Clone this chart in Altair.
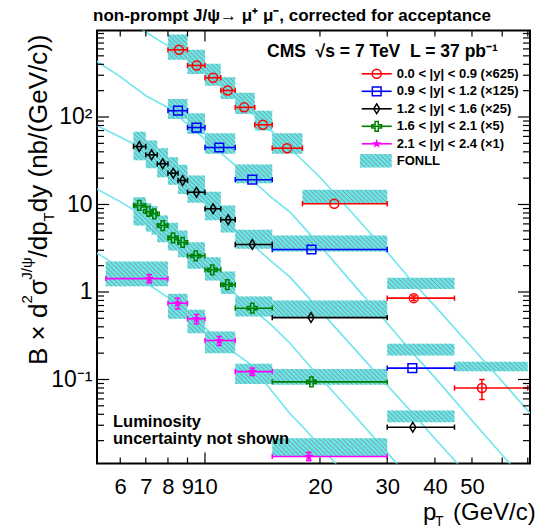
import math
import altair as alt
import pandas as pd

# ---------------------------------------------------------------- data
SERIES = ["s0", "s1", "s2", "s3", "s4"]
LABELS = ["0.0 < |y| < 0.9 (×625)", "0.9 < |y| < 1.2 (×125)", "1.2 < |y| < 1.6 (×25)",
          "1.6 < |y| < 2.1 (×5)", "2.1 < |y| < 2.4 (×1)"]
COLORS = ["#ff0000", "#0000ff", "#000000", "#008000", "#ff00ff"]

# 0.0<|y|<0.9 (x625)
s0_lo = [8, 9, 10, 11, 12, 13.5, 15, 18, 30, 45]
s0_hi = [9, 10, 11, 12, 13.5, 15, 18, 30, 45, 70]
s0_pt = [8.55, 9.51, 10.5, 11.47, 12.67, 14.18, 16.4, 21.8, 35.2, 53.1]
s0_val = [586, 388, 281, 201, 129, 81.5, 44, 10.2, 0.85, 0.080]
s0_flo = [450, 311, 228, 161, 108.5, 70, 37.9, 10.3, 1.08, 0.124]
s0_fhi = [877, 586, 405, 285, 189, 118, 65.3, 14.7, 1.45, 0.159]

# 0.9<|y|<1.2 (x125)
s1_lo = [8, 9, 10, 12, 15, 30]
s1_hi = [9, 10, 12, 15, 30, 45]
s1_pt = [8.5, 9.5, 10.9, 13.3, 19.0, 34.9]
s1_val = [118, 75.8, 44.8, 19.2, 3.06, 0.135]
s1_flo = [95, 64, 38, 17.5, 2.9, 0.188]
s1_fhi = [161, 110, 65, 28.7, 4.42, 0.256]

# 1.2<|y|<1.6 (x25)
s2_lo = [6.5, 7, 7.5, 8, 8.5, 9, 10, 11, 12, 15, 30]
s2_hi = [7, 7.5, 8, 8.5, 9, 10, 11, 12, 15, 30, 45]
s2_pt = [6.73, 7.25, 7.75, 8.26, 8.74, 9.5, 10.5, 11.5, 13.3, 18.95, 35]
s2_val = [46, 37, 29.2, 22.8, 18.8, 13.8, 8.93, 6.69, 3.49, 0.51, 0.0285]
s2_flo = [32, 26, 20.5, 16.8, 13.2, 10.5, 6.6, 4.8, 3.12, 0.515, 0.0325]
s2_fhi = [68, 54, 44, 34.7, 28.5, 21.5, 14, 9.75, 5.14, 0.80, 0.0442]

# 1.6<|y|<2.1 (x5)
s3_lo = [6.5, 7, 7.25, 7.5, 8, 8.5, 9, 10, 11, 12, 15]
s3_hi = [7, 7.25, 7.5, 8, 8.5, 9, 10, 11, 12, 15, 30]
s3_pt = [6.73, 7.11, 7.37, 7.75, 8.25, 8.74, 9.46, 10.45, 11.44, 13.3, 19.0]
s3_val = [9.74, 8.32, 7.83, 5.75, 4.16, 3.68, 2.59, 1.79, 1.21, 0.653, 0.094]
s3_flo = [5.75, 4.9, 4.5, 3.7, 2.98, 2.5, 1.84, 1.35, 0.95, 0.525, 0.087]
s3_fhi = [12.1, 10.3, 9.6, 7.5, 6.2, 5.05, 3.7, 2.5, 1.72, 0.89, 0.132]

# 2.1<|y|<2.4 (x1)
s4_lo = [5.5, 8, 9, 10, 12, 15]
s4_hi = [8, 9, 10, 12, 15, 30]
s4_pt = [7.15, 8.48, 9.5, 10.9, 13.3, 18.7]
s4_val = [1.42, 0.745, 0.494, 0.279, 0.123, 0.0132]
s4_flo = [1.16, 0.494, 0.338, 0.20, 0.089, 0.0132]
s4_fhi = [2.23, 0.953, 0.626, 0.354, 0.151, 0.0213]

# visible vertical (statistical) error bars
yerr_series = ["s0", "s0", "s4", "s4", "s4", "s4", "s4", "s4"]
yerr_pt = [35.2, 53.1, 7.15, 8.48, 9.5, 10.9, 13.3, 18.7]
yerr_lo = [0.80, 0.059, 1.27, 0.64, 0.433, 0.245, 0.111, 0.0118]
yerr_hi = [0.90, 0.100, 1.58, 0.85, 0.553, 0.31, 0.135, 0.0147]

# FONLL central curves
c0_pt = [5.2, 6, 7, 8, 10, 12, 15, 18, 20, 25, 30, 35, 40, 50, 60, 71]
c0_v = [2300, 1480, 930, 650, 320, 165, 68, 32, 20.5, 6.95, 2.85, 1.29, 0.69, 0.232, 0.095, 0.041]
c1_pt = [5.2, 6, 7, 8, 10, 12, 15, 16.7, 18, 20, 25, 30, 35, 40, 50, 60, 71]
c1_v = [434, 290, 175, 128, 56, 28, 11.8, 8.2, 5.7, 3.4, 1.1, 0.44, 0.2, 0.105, 0.034, 0.0137, 0.006]
c2_pt = [5.2, 6, 6.5, 7, 8, 10, 12, 15, 16.7, 18, 20, 25, 30, 35, 40, 50]
c2_v = [80, 59, 49.4, 38, 23.5, 10.2, 5.1, 2.2, 1.48, 1.03, 0.616, 0.208, 0.086, 0.041, 0.021, 0.0072]
c3_pt = [5.2, 6, 7, 8, 10, 12, 15, 16.7, 18, 20, 25, 30, 35]
c3_v = [15.1, 10.8, 7.1, 4.4, 1.9, 0.95, 0.41, 0.26, 0.177, 0.106, 0.036, 0.0146, 0.0068]
c4_pt = [5.2, 6, 7, 8, 10, 12, 13.1, 15, 16.7, 18, 20, 22, 25]
c4_v = [2.8, 1.9, 1.27, 0.87, 0.39, 0.2, 0.151, 0.073, 0.0405, 0.029, 0.0175, 0.0109, 0.0056]

# axis ticks and labels
X_LABELS = [6, 7, 8, 9, 10, 20, 30, 40, 50]
XT_MAJOR = [10]
XT_MINOR = [6, 7, 8, 9, 20, 30, 40, 50, 60, 70]
YT_MAJOR = [0.1, 1, 10, 100]
YT_MINOR = [0.02, 0.03, 0.04, 0.05, 0.06, 0.07, 0.08, 0.09,
            0.2, 0.3, 0.4, 0.5, 0.6, 0.7, 0.8, 0.9,
            2, 3, 4, 5, 6, 7, 8, 9,
            20, 30, 40, 50, 60, 70, 80, 90,
            200, 300, 400, 500, 600, 700, 800, 900]

# ---------------------------------------------------------------- layout / style
W, H = 433, 433
PAD = {"left": 97, "top": 30.5, "right": 7, "bottom": 64.5}
XDOM = [5.216, 70.94]
YDOM = [0.01096, 974]
FONT = "Liberation Sans"
CYAN_FILL = "#66e6e8"
CYAN_LINE = "#70e6ee"
HATCH = "#8c8c8c"

lx0, lx1 = math.log10(XDOM[0]), math.log10(XDOM[1])
ly0, ly1 = math.log10(YDOM[0]), math.log10(YDOM[1])
PPX = W / (lx1 - lx0)
PPY = H / (ly1 - ly0)


def x_of(px):
    return 10 ** (lx0 + px / PPX)


def y_of(py):
    return 10 ** (ly1 - py / PPY)


def hatch(x0, x1, y0, y1, step=4.6):
    u0, u1 = math.log10(x0) * PPX, math.log10(x1) * PPX
    v0, v1 = math.log10(y0) * PPY, math.log10(y1) * PPY
    out = []
    c = math.floor((u0 + v0) / step) * step + step
    while c < u1 + v1:
        ua = max(u0, c - v1)
        ub = min(u1, c - v0)
        if ub - ua > 0.3:
            out.append(dict(x=10 ** (ua / PPX), y=10 ** ((c - ua) / PPY),
                            x2=10 ** (ub / PPX), y2=10 ** ((c - ub) / PPY)))
        c += step
    return out


# ---------------------------------------------------------------- tables
sdata = [
    (s0_lo, s0_hi, s0_pt, s0_val, s0_flo, s0_fhi),
    (s1_lo, s1_hi, s1_pt, s1_val, s1_flo, s1_fhi),
    (s2_lo, s2_hi, s2_pt, s2_val, s2_flo, s2_fhi),
    (s3_lo, s3_hi, s3_pt, s3_val, s3_flo, s3_fhi),
    (s4_lo, s4_hi, s4_pt, s4_val, s4_flo, s4_fhi),
]
pts = pd.concat([
    pd.DataFrame(dict(series=sid, lo=d[0], hi=d[1], pt=d[2], val=d[3], flo=d[4], fhi=d[5]))
    for sid, d in zip(SERIES, sdata)
], ignore_index=True)

curves = pd.concat([
    pd.DataFrame(dict(series=sid, pt=p, v=v, i=range(len(p))))
    for sid, p, v in zip(SERIES, [c0_pt, c1_pt, c2_pt, c3_pt, c4_pt],
                         [c0_v, c1_v, c2_v, c3_v, c4_v])
], ignore_index=True)

# legend (positions inside plot area, in pixels, converted to data space)
LEG_ROWS = [43.3, 60.8, 78.3, 95.8, 113.3]
LEG_FONLL_ROW = 130.5
leg = pd.DataFrame(dict(series=SERIES, label=LABELS,
                        lo=[x_of(264.7)] * 5, hi=[x_of(294.7)] * 5,
                        pt=[x_of(279.7)] * 5, val=[y_of(r) for r in LEG_ROWS],
                        tx=[x_of(299.7)] * 5))
leg_text = pd.concat([leg[["label", "tx", "val"]],
                      pd.DataFrame(dict(label=["FONLL"], tx=[x_of(299.7)],
                                        val=[y_of(LEG_FONLL_ROW)]))], ignore_index=True)

boxes = pts[["lo", "hi", "flo", "fhi"]].copy()
boxes = pd.concat([boxes, pd.DataFrame(dict(lo=[x_of(263)], hi=[x_of(294.7)],
                                            flo=[y_of(137)], fhi=[y_of(123.5)]))],
                  ignore_index=True)
hatch_rows = []
for _, b in boxes.iterrows():
    hatch_rows += hatch(b.lo, b.hi, b.flo, b.fhi)
hatch_df = pd.DataFrame(hatch_rows)

caps = pd.concat([
    pts[["series", "lo", "val"]].rename(columns={"lo": "cx"}),
    pts[["series", "hi", "val"]].rename(columns={"hi": "cx"}),
], ignore_index=True)

yerr = pd.DataFrame(dict(series=yerr_series, pt=yerr_pt, ylo=yerr_lo, yhi=yerr_hi))
ycaps = pd.concat([
    yerr[["series", "pt", "ylo"]].rename(columns={"ylo": "cy"}),
    yerr[["series", "pt", "yhi"]].rename(columns={"yhi": "cy"}),
], ignore_index=True)

markers = pd.concat([pts[["series", "pt", "val"]], leg[["series", "pt", "val"]]],
                    ignore_index=True)

# ---------------------------------------------------------------- encodings
xs = alt.Scale(type="log", domain=XDOM, nice=False)
ys = alt.Scale(type="log", domain=YDOM, nice=False)
cscale = alt.Scale(domain=SERIES, range=COLORS)

XAXIS = alt.Axis(values=X_LABELS, format="d", tickSize=0, domain=False, grid=False, title=None,
                 labelFontSize=22, labelPadding=13, labelFont=FONT, labelColor="black",
                 labelFlush=False, labelOverlap=False)
YAXIS = alt.Axis(values=YT_MAJOR,
                 labelExpr="datum.value >= 100 ? '10²' : datum.value >= 10 ? '10' : datum.value >= 1 ? '1' : '10⁻¹'",
                 tickSize=0, domain=False, grid=False, title=None,
                 labelFontSize=23, labelPadding=5, labelFont=FONT, labelColor="black",
                 labelFlush=False, labelOverlap=False)


def ex(f):
    return alt.X(f, type="quantitative", scale=xs, axis=XAXIS)


def ey(f):
    return alt.Y(f, type="quantitative", scale=ys, axis=YAXIS)


col = alt.Color("series:N", scale=cscale, legend=None)

layers = []

layers.append(alt.Chart(curves).mark_line(clip=True, color=CYAN_LINE, strokeWidth=1.6).encode(
    x=ex("pt"), y=ey("v"), detail="series:N", order="i:Q"))

layers.append(alt.Chart(boxes).mark_rect(clip=True, color=CYAN_FILL).encode(
    x=ex("lo"), x2="hi", y=ey("flo"), y2="fhi"))

layers.append(alt.Chart(hatch_df).mark_rule(clip=True, color=HATCH, strokeWidth=0.9).encode(
    x=ex("x"), x2="x2", y=ey("y"), y2="y2"))

layers.append(alt.Chart(pts).mark_rule(strokeWidth=1.6).encode(
    x=ex("lo"), x2="hi", y=ey("val"), color=col))
layers.append(alt.Chart(caps).mark_point(shape="M0,-1L0,1", size=28, strokeWidth=1.5,
                                         filled=False, opacity=1).encode(
    x=ex("cx"), y=ey("val"), color=col))
layers.append(alt.Chart(yerr).mark_rule(strokeWidth=1.5).encode(
    x=ex("pt"), y=ey("ylo"), y2="yhi", color=col))
layers.append(alt.Chart(ycaps).mark_point(shape="M-1,0L1,0", size=30, strokeWidth=1.5,
                                          filled=False, opacity=1).encode(
    x=ex("pt"), y=ey("cy"), color=col))

layers.append(alt.Chart(leg).mark_rule(strokeWidth=1.6).encode(
    x=ex("lo"), x2="hi", y=ey("val"), color=col))

SHAPES = [
    ("circle", 80, False),
    ("square", 76, False),
    ("M0,-1L0.62,0L0,1L-0.62,0Z", 95, False),
    ("M-0.33,-1H0.33V-0.33H1V0.33H0.33V1H-0.33V0.33H-1V-0.33H-0.33Z", 95, False),
    ("M0,-1L0.235,-0.324L0.951,-0.309L0.38,0.124L0.588,0.809L0,0.4L-0.588,0.809L-0.38,0.124L-0.951,-0.309L-0.235,-0.324Z", 100, True),
]
for sid, colr, (shp, sz, filled) in zip(SERIES, COLORS, SHAPES):
    layers.append(alt.Chart(markers[markers.series == sid]).mark_point(
        shape=shp, size=sz, filled=filled, color=colr, strokeWidth=1.5, opacity=1).encode(
        x=ex("pt"), y=ey("val")))

# inner ticks (mirrored on all four sides)
for vals, ln in [(XT_MINOR, 6), (XT_MAJOR, 11)]:
    d = pd.DataFrame({"v": vals})
    layers.append(alt.Chart(d).mark_rule(color="black", strokeWidth=1.2).encode(
        x=ex("v"), y=alt.value(H), y2=alt.value(H - ln)))
    layers.append(alt.Chart(d).mark_rule(color="black", strokeWidth=1.2).encode(
        x=ex("v"), y=alt.value(0), y2=alt.value(ln)))
for vals, ln in [(YT_MINOR, 7), (YT_MAJOR, 12)]:
    d = pd.DataFrame({"v": vals})
    layers.append(alt.Chart(d).mark_rule(color="black", strokeWidth=1.2).encode(
        y=ey("v"), x=alt.value(0), x2=alt.value(ln)))
    layers.append(alt.Chart(d).mark_rule(color="black", strokeWidth=1.2).encode(
        y=ey("v"), x=alt.value(W), x2=alt.value(W - ln)))

# legend texts
layers.append(alt.Chart(leg_text).mark_text(align="left", baseline="middle", font=FONT,
                                            fontWeight="bold", fontSize=13, color="black").encode(
    x=ex("tx"), y=ey("val"), text="label:N"))

one = pd.DataFrame({"a": [0]})
OX, OY = PAD["left"], PAD["top"]


def txt(s, ax, ay, size, bold=False, angle=0, align="left"):
    kw = dict(text=s, font=FONT, fontSize=size, align=align, baseline="alphabetic",
              color="black", fontWeight="bold" if bold else "normal")
    if angle:
        kw["angle"] = angle
    return alt.Chart(one).mark_text(**kw).encode(x=alt.value(ax - OX), y=alt.value(ay - OY))


NB = "\u00a0"
layers.append(txt("non-prompt J/ψ→ μ⁺ μ⁻, corrected for acceptance", 93, 21, 17, bold=True))
layers.append(txt("CMS" + NB * 2 + "√s = 7 TeV" + NB * 2 + "L = 37 pb⁻¹", 267, 57, 17.5, bold=True))
layers.append(txt("Luminosity", 113, 427, 16.5, bold=True))
layers.append(txt("uncertainty not shown", 113, 444, 16.5, bold=True))

# x title
layers.append(txt("p", 423, 520, 24))
layers.append(txt("T", 435, 525.5, 14))
layers.append(txt("(GeV/c)", 453, 520, 24))

# y title pieces (rotated, reading bottom to top)
YT_PIECES = [
    ("B × d", 26, 365.0, 46.7),
    ("2", 15, 303.6, 32.0),
    ("σ", 26, 295.3, 46.7),
    ("J/ψ", 15, 279.7, 32.0),
    ("/dp", 26, 257.5, 46.7),
    ("T", 15, 221.4, 53.5),
    ("dy (nb/(GeV/c))", 26, 212.2, 46.7),
]
for s, sz, ay, ax in YT_PIECES:
    layers.append(txt(s, ax, ay, sz, angle=270))

chart = alt.layer(*layers).properties(
    width=W, height=H, padding=PAD, autosize=alt.AutoSizeParams(type="none")
).configure_view(stroke="black", strokeWidth=2)

chart.save("out.html", embed_options={"renderer": "svg", "actions": False})
